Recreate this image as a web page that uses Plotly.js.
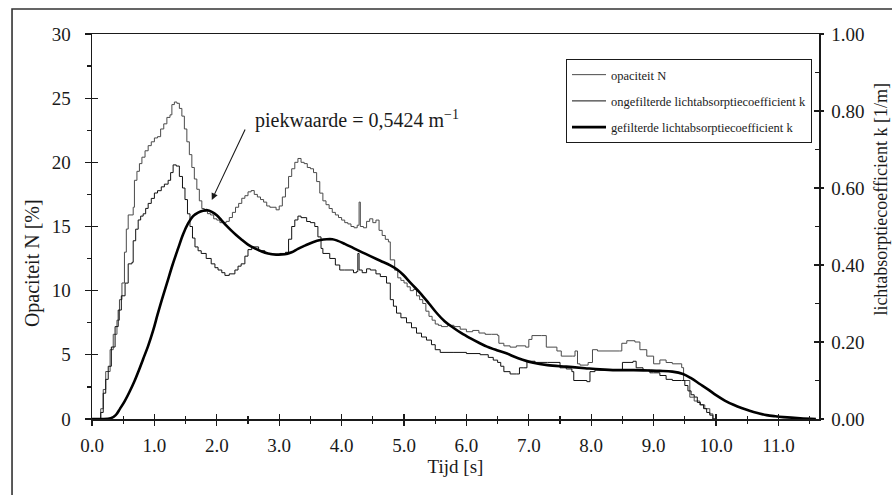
<!DOCTYPE html>
<html>
<head>
<meta charset="utf-8">
<script src="https://cdn.plot.ly/plotly-3.0.1.min.js"></script>
<style>html,body{margin:0;padding:0;background:#fff;}#chart{width:892px;height:495px;}</style>
</head>
<body>
<div id="chart"></div>
<script>
// Tijd [s] and opaciteit N [%]
var tOpac = [0,0.10,0.14,0.18,0.22,0.29,0.34,0.40,0.44,0.48,
  0.52,0.55,0.58,0.66,0.68,0.72,0.76,0.80,0.85,0.90,
  0.95,1.00,1.05,1.10,1.15,1.20,1.25,1.28,1.32,1.36,
  1.40,1.44,1.48,1.52,1.56,1.60,1.64,1.68,1.72,1.76,
  1.80,1.85,1.90,1.95,2.00,2.05,2.15,2.20,2.25,2.30,
  2.35,2.40,2.45,2.50,2.55,2.60,2.65,2.70,2.75,2.80,
  2.85,2.95,3.00,3.05,3.10,3.15,3.20,3.25,3.30,3.35,
  3.40,3.45,3.50,3.55,3.60,3.65,3.70,3.75,3.80,3.85,
  3.90,3.95,4.00,4.05,4.10,4.15,4.20,4.25,4.28,4.30,
  4.35,4.40,4.45,4.50,4.55,4.60,4.65,4.70,4.75,4.78,
  4.85,4.90,4.95,5.00,5.05,5.10,5.15,5.20,5.25,5.30,
  5.35,5.40,5.45,5.50,5.55,5.60,5.70,5.80,5.90,6.00,
  6.10,6.20,6.30,6.40,6.50,6.52,6.60,6.70,6.80,6.95,
  7.00,7.05,7.20,7.28,7.45,7.52,7.70,7.74,7.78,7.82,
  7.95,8.02,8.10,8.45,8.49,8.57,8.70,8.78,8.89,9.00,
  9.10,9.20,9.30,9.45,9.48,9.58,9.65,9.74,9.82,9.90,
  9.95,10.0];
var opacN = [0,0,0.8,2.3,3.7,5.4,6.6,7.7,9.3,10.6,
  13.0,14.8,15.9,16.5,18.6,19.3,19.9,20.4,20.9,21.3,
  21.6,21.9,22.0,22.6,23.0,23.5,23.7,24.5,24.7,24.6,
  24.2,23.6,22.6,21.6,20.6,19.6,18.7,17.9,17.0,16.4,
  16.2,16.0,15.9,15.6,15.5,15.3,15.4,15.7,16.1,16.5,
  16.8,17.2,17.4,17.7,17.8,17.5,17.3,17.1,16.9,16.6,
  16.5,16.3,16.6,17.3,18.0,18.9,19.5,20.0,20.3,20.0,
  19.9,19.6,19.5,19.2,18.5,17.6,17.0,16.7,16.4,16.1,
  15.9,15.7,15.5,15.3,15.2,15.0,14.9,15.1,16.9,15.0,
  14.9,15.4,15.6,15.3,15.5,14.7,14.3,14.0,13.8,12.4,
  11.6,11.0,10.8,10.6,10.3,10.0,10.1,9.6,9.3,9.0,
  8.4,8.0,7.7,7.4,7.3,7.2,7.3,7.2,7.0,6.8,
  6.9,6.7,6.6,6.6,6.5,5.9,5.7,5.6,5.7,5.6,
  6.2,6.5,6.5,5.6,5.3,4.9,4.9,5.3,4.3,4.2,
  4.4,5.4,5.3,5.3,5.9,6.1,6.0,5.4,4.9,4.3,
  4.6,4.4,4.3,4.0,3.0,1.7,1.4,1.1,0.8,0.4,
  0,0];

// Tijd [s] and ongefilterde lichtabsorptiecoefficient k [1/m]
var tRaw = [0,0.10,0.14,0.18,0.22,0.26,0.31,0.37,0.42,0.47,
  0.53,0.58,0.64,0.66,0.70,0.74,0.78,0.82,0.86,0.90,
  0.95,1.00,1.05,1.11,1.16,1.22,1.26,1.30,1.35,1.40,
  1.45,1.49,1.53,1.57,1.61,1.65,1.70,1.75,1.83,1.91,
  1.97,2.02,2.08,2.13,2.20,2.29,2.34,2.39,2.45,2.50,
  2.56,2.61,2.67,2.77,2.85,2.93,3.01,3.10,3.15,3.20,
  3.25,3.30,3.35,3.44,3.50,3.57,3.62,3.67,3.70,3.81,
  3.90,3.97,4.05,4.19,4.24,4.26,4.28,4.33,4.40,4.46,
  4.55,4.62,4.72,4.78,4.83,4.88,4.95,5.04,5.12,5.20,
  5.28,5.36,5.44,5.50,5.58,5.80,6.00,6.22,6.35,6.43,
  6.50,6.55,6.60,6.70,6.80,6.85,6.92,6.97,7.10,7.30,
  7.50,7.60,7.69,7.72,7.93,7.98,8.06,8.45,8.50,8.67,
  8.72,8.83,8.94,9.00,9.10,9.20,9.30,9.45,9.50,9.55,
  9.60,9.65,9.70,9.75,9.80,9.85,9.90,9.95,10.0];
var kRaw = [0,0,0.017,0.067,0.103,0.137,0.187,0.240,0.283,0.320,
  0.353,0.403,0.407,0.463,0.493,0.517,0.527,0.533,0.547,0.560,
  0.573,0.587,0.593,0.603,0.610,0.620,0.640,0.660,0.657,0.630,
  0.600,0.570,0.533,0.500,0.470,0.447,0.437,0.430,0.417,0.403,
  0.393,0.387,0.380,0.373,0.377,0.387,0.397,0.403,0.423,0.440,
  0.447,0.447,0.437,0.430,0.427,0.427,0.430,0.433,0.467,0.500,
  0.517,0.527,0.523,0.513,0.510,0.500,0.473,0.443,0.430,0.417,
  0.400,0.387,0.387,0.380,0.383,0.430,0.387,0.380,0.390,0.387,
  0.377,0.370,0.353,0.310,0.293,0.275,0.263,0.250,0.237,0.223,
  0.213,0.205,0.193,0.180,0.173,0.173,0.170,0.167,0.160,0.153,
  0.147,0.137,0.123,0.117,0.117,0.133,0.133,0.150,0.147,0.147,
  0.133,0.130,0.123,0.100,0.097,0.123,0.127,0.127,0.147,0.150,
  0.133,0.127,0.120,0.120,0.113,0.103,0.100,0.100,0.087,0.073,
  0.063,0.057,0.043,0.037,0.027,0.017,0.010,0,0];

// Tijd [s] and gefilterde lichtabsorptiecoefficient k [1/m]
var tFilt = [0,0.15,0.30,0.38,0.45,0.52,0.60,0.68,0.75,0.82,
  0.90,0.98,1.05,1.12,1.20,1.29,1.38,1.46,1.54,1.62,
  1.70,1.78,1.85,1.92,2.00,2.07,2.15,2.23,2.31,2.39,
  2.50,2.61,2.72,2.82,2.95,3.09,3.20,3.30,3.42,3.55,
  3.66,3.76,3.85,3.92,4.05,4.19,4.33,4.46,4.62,4.78,
  4.90,4.99,5.12,5.26,5.40,5.52,5.65,5.79,5.92,6.06,
  6.20,6.33,6.50,6.65,6.75,6.90,7.07,7.30,7.60,7.90,
  8.14,8.40,8.68,8.90,9.10,9.30,9.47,9.60,9.74,9.87,
  10.00,10.14,10.28,10.42,10.55,10.68,10.81,10.95,11.08,11.35,
  11.60];
var kFilt = [0,0,0.002,0.010,0.027,0.045,0.070,0.098,0.126,0.156,
  0.190,0.230,0.271,0.310,0.352,0.400,0.443,0.480,0.508,0.527,
  0.536,0.541,0.5424,0.538,0.529,0.517,0.503,0.490,0.478,0.467,
  0.453,0.443,0.435,0.430,0.427,0.428,0.433,0.442,0.451,0.460,
  0.465,0.467,0.467,0.464,0.455,0.444,0.433,0.423,0.411,0.399,
  0.387,0.374,0.351,0.327,0.300,0.276,0.254,0.237,0.223,0.210,
  0.198,0.188,0.178,0.170,0.163,0.154,0.146,0.140,0.136,0.132,
  0.129,0.127,0.127,0.126,0.125,0.123,0.117,0.106,0.091,0.077,
  0.062,0.048,0.037,0.028,0.021,0.015,0.010,0.007,0.005,0.002,
  0];

var xTickVals = [0,1,2,3,4,5,6,7,8,9,10,11];
var xTickText = ["0.0","1.0","2.0","3.0","4.0","5.0","6.0","7.0","8.0","9.0","10.0","11.0"];
var yTickVals = [0,5,10,15,20,25,30];
var y2TickVals = [0,0.2,0.4,0.6,0.8,1.0];
var y2TickText = ["0.00","0.20","0.40","0.60","0.80","1.00"];

var FONT = "Liberation Serif, Times New Roman, serif";
var INK = "#1a1a1a";

var traces = [
  {x: tOpac, y: opacN, type: "scatter", mode: "lines", name: "opaciteit N",
   line: {color: "#4a4a4a", width: 1, shape: "hv"}, legendgroup: "a", xaxis: "x", yaxis: "y"},
  {x: tRaw, y: kRaw, type: "scatter", mode: "lines", name: "ongefilterde lichtabsorptiecoefficient k",
   line: {color: "#111", width: 1, shape: "hv"}, legendgroup: "b", xaxis: "x", yaxis: "y2"},
  {x: tFilt, y: kFilt, type: "scatter", mode: "lines", name: "gefilterde lichtabsorptiecoefficient k",
   line: {color: "#000", width: 2.6, shape: "spline", smoothing: 1}, legendgroup: "c", xaxis: "x", yaxis: "y2"},
  {x: [], y: [], type: "scatter", mode: "lines", showlegend: false, hoverinfo: "skip", xaxis: "x2", yaxis: "y3"},
  {x: [], y: [], type: "scatter", mode: "lines", showlegend: false, hoverinfo: "skip", xaxis: "x2", yaxis: "y4"}
];

var axCommon = {showgrid: false, zeroline: false, linecolor: INK, linewidth: 1.5, tickcolor: INK, tickwidth: 1.3,
  tickfont: {family: FONT, size: 19, color: INK}};

var layout = {
  width: 892, height: 495,
  margin: {l: 92, r: 73, t: 34, b: 76},
  paper_bgcolor: "#fff", plot_bgcolor: "#fff",
  font: {family: FONT, color: INK},
  showlegend: true,
  legend: {x: 0.652, y: 0.935, xanchor: "left", yanchor: "top", bgcolor: "#fff",
    bordercolor: INK, borderwidth: 1, font: {family: FONT, size: 12.5, color: INK},
    traceorder: "grouped", tracegroupgap: 7, itemwidth: 34},
  xaxis: Object.assign({}, axCommon, {range: [0, 11.65], tickvals: xTickVals, ticktext: xTickText,
    ticks: "outside", ticklen: 5, showline: true, mirror: true, ticklabelstandoff: 4,
    minor: {dtick: 0.5, ticks: "outside", ticklen: 3, tickcolor: INK}, anchor: "y",
    title: {text: "Tijd [s]", font: {family: FONT, size: 19, color: INK}, standoff: 4}}),
  xaxis2: Object.assign({}, axCommon, {range: [0, 11.65], overlaying: "x", anchor: "y", side: "bottom",
    tickvals: xTickVals, ticks: "inside", ticklen: 5, showticklabels: false, showline: false,
    minor: {dtick: 0.5, ticks: "inside", ticklen: 3, tickcolor: INK}}),
  yaxis: Object.assign({}, axCommon, {range: [0, 30], tickvals: yTickVals, ticks: "outside", ticklen: 6,
    showline: true, ticklabelstandoff: 10, anchor: "x",
    minor: {dtick: 2.5, ticks: "outside", ticklen: 4, tickcolor: INK}}),
  yaxis2: Object.assign({}, axCommon, {range: [0, 1], tickvals: y2TickVals, ticktext: y2TickText,
    overlaying: "y", side: "right", anchor: "x", ticks: "outside", ticklen: 3, showline: true,
    ticklabelstandoff: 4}),
  yaxis3: Object.assign({}, axCommon, {range: [0, 30], tickvals: yTickVals, overlaying: "y", side: "left",
    anchor: "x2", ticks: "inside", ticklen: 6, showticklabels: false, showline: false}),
  yaxis4: Object.assign({}, axCommon, {range: [0, 1], tickvals: y2TickVals, overlaying: "y", side: "right",
    anchor: "x2", ticks: "inside", ticklen: 5, showticklabels: false, showline: false,
    minor: {dtick: 0.1, ticks: "inside", ticklen: 4, tickcolor: INK}}),
  annotations: [
    {xref: "x", yref: "y", x: 2.58, y: 23.3, xanchor: "left", yanchor: "middle", showarrow: false,
     text: "piekwaarde = 0,5424 m<sup>−1</sup>", font: {family: FONT, size: 20, color: INK}},
    {xref: "x", yref: "y", x: 1.92, y: 17.07, ax: 34, ay: -72, showarrow: true, text: "",
     arrowhead: 2, arrowsize: 1.2, arrowwidth: 1.1, arrowcolor: INK},
    {xref: "paper", yref: "paper", x: -0.0825, y: 0.405, xanchor: "center", yanchor: "middle",
     textangle: -90, showarrow: false, text: "Opaciteit N [%]", font: {family: FONT, size: 20, color: INK}},
    {xref: "paper", yref: "paper", x: 1.084, y: 0.57, xanchor: "center", yanchor: "middle",
     textangle: -90, showarrow: false, text: "lichtabsorptiecoefficient k [1/m]", font: {family: FONT, size: 18, color: INK}}
  ],
  shapes: [
    {type: "rect", xref: "paper", yref: "paper", x0: -0.110, x1: 1.12, y0: -0.22, y1: 1.065,
     line: {color: "#333", width: 1.6}, fillcolor: "rgba(0,0,0,0)", layer: "below"}
  ]
};

Plotly.newPlot("chart", traces, layout, {displayModeBar: false, staticPlot: true});
</script>
</body>
</html>
